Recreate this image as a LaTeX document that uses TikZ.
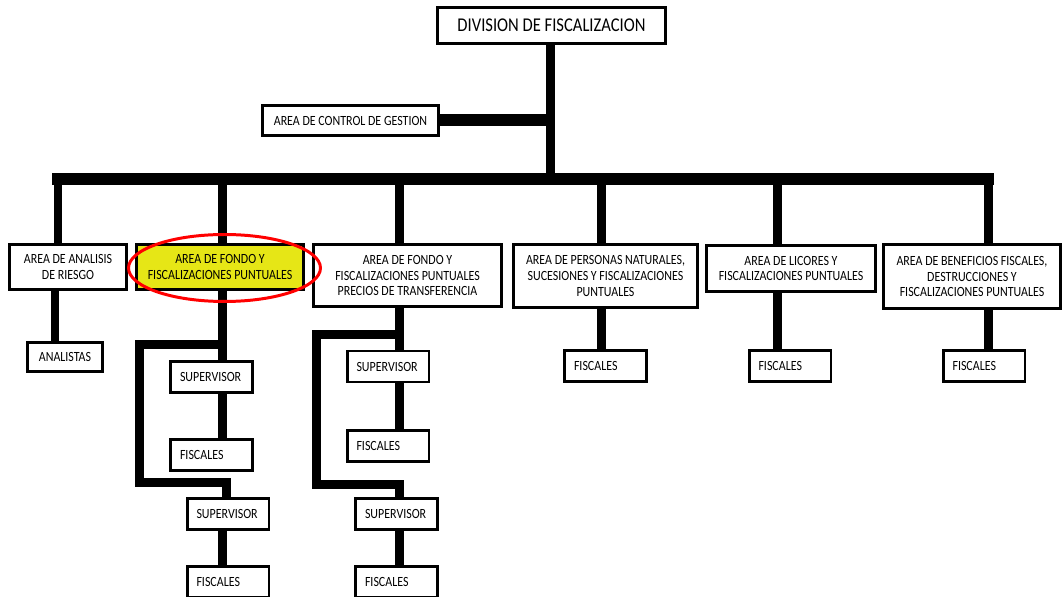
\documentclass[tikz,border=0pt]{standalone}
\usepackage{fontspec}
\setmainfont{Carlito}[FakeStretch=0.85]
\usepackage{tikz}
\usetikzlibrary{positioning,shapes.geometric}
\definecolor{hiyellow}{RGB}{230,230,22}
\newcommand\boxfont{\fontsize{8}{9.1}\selectfont}
\newcommand\headfont{\fontsize{11.1}{12}\selectfont}
\tikzset{
  box/.style={draw, line width=1.7pt, fill=white, align=center, inner sep=1pt, font=\boxfont},
  wh/.style 2 args={minimum width={#1*0.02cm}, minimum height={#2*0.02cm}},
  staff/.style={box, align=left, inner xsep=0.19cm, text width=1.26cm, minimum height=0.62cm},
  link/.style={line width=0.18cm},
  wide/.style={line width=0.24cm},
  bus/.style={line width=0.24cm, line cap=rect},
  ring/.style={ellipse, draw=red, line width=1.7pt, inner sep=0pt}
}

\begin{document}
\begin{tikzpicture}[x=0.02cm, y=-0.02cm]
  \useasboundingbox (0,0) rectangle (1062,597);

  % --- Top ---
  \node[box, font=\headfont, wh={228}{36}] (div) at (551.5,25.5) {DIVISION DE FISCALIZACION};
  \node[box, wh={176}{30}] (ctl) at (350.5,120.5) {AREA DE CONTROL DE GESTION};

  % --- Areas ---
  \node[box, wh={117}{45}] (ana) at (68,267) {AREA DE ANALISIS\\DE RIESGO};
  \node[box, fill=hiyellow, wh={167}{45}] (fon) at (220,267) {AREA DE FONDO Y\\FISCALIZACIONES PUNTUALES};
  \node[box, wh={188}{62}] (fpt) at (407.5,275.5) {AREA DE FONDO Y\\FISCALIZACIONES PUNTUALES\\PRECIOS DE TRANSFERENCIA};
  \node[box, wh={184}{63}] (per) at (605.5,276) {AREA DE PERSONAS NATURALES,\\SUCESIONES Y FISCALIZACIONES\\PUNTUALES};
  \node[box, wh={169}{46}] (lic) at (791,268.5) {AREA DE LICORES Y\\FISCALIZACIONES PUNTUALES};
  \node[box, wh={177}{64}] (ben) at (972,276.5) {AREA DE BENEFICIOS FISCALES,\\DESTRUCCIONES Y\\FISCALIZACIONES PUNTUALES};

  % --- Staff ---
  \node[box, wh={75}{29}] (anl) at (65,357) {ANALISTAS};
  \node[staff] (sup1) at (211.5,377) {SUPERVISOR};
  \node[staff] (fis1) at (211.5,455) {FISCALES};
  \node[staff] (sup2) at (228,514) {SUPERVISOR};
  \node[staff] (fis2) at (228,582) {FISCALES};
  \node[staff] (sup3) at (388,366.5) {SUPERVISOR};
  \node[staff] (fis3) at (388,446) {FISCALES};
  \node[staff] (sup4) at (396.5,514) {SUPERVISOR};
  \node[staff] (fis4) at (396.5,582) {FISCALES};
  \node[staff] (fis5) at (605.5,366) {FISCALES};
  \node[staff] (fis6) at (790,366) {FISCALES};
  \node[staff] (fis7) at (984,366) {FISCALES};

  % --- Trunk and bus ---
  \coordinate (hub) at (550,179);
  \draw[link] (div.south -| hub) -- (hub);
  \draw[wide] (ctl.east) -- (ctl.east -| hub);
  \coordinate (b1) at (58,179);
  \coordinate (b2) at (222.5,179);
  \coordinate (b3) at (399,179);
  \coordinate (b4) at (601,179);
  \coordinate (b5) at (777,179);
  \coordinate (b6) at (988,179);
  \draw[bus] (b1) -- (b6);
  \foreach \b/\n in {b1/ana, b2/fon, b3/fpt, b4/per, b5/lic, b6/ben}
    \draw[link] (\b) -- (\b |- \n.north);

  % --- Single drops ---
  \coordinate (c1) at (55,320);
  \draw[link] (ana.south -| c1) -- (c1 |- anl.north);
  \draw[link] (per.south -| b4) -- (b4 |- fis5.north);
  \draw[link] (lic.south -| b5) -- (b5 |- fis6.north);
  \draw[link] (ben.south -| b6) -- (b6 |- fis7.north);

  % --- Fondo ---
  \coordinate (j2a) at (222.5,345);
  \coordinate (j2b) at (139,345);
  \coordinate (j2c) at (139,483);
  \coordinate (j2d) at (226,483);
  \draw[link] (fon.south -| j2a) -- (j2a |- sup1.north);
  \draw[link] (j2a) -- (j2b) -- (j2c) -- (j2d) -- (j2d |- sup2.north);
  \draw[link] (sup1.south -| j2a) -- (j2a |- fis1.north);
  \draw[link] (sup2.south -| j2a) -- (j2a |- fis2.north);

  % --- Fondo, precios de transferencia ---
  \coordinate (j3a) at (399,335);
  \coordinate (j3b) at (316,335);
  \coordinate (j3c) at (316,485);
  \coordinate (j3d) at (399,485);
  \draw[link] (fpt.south -| j3a) -- (j3a |- sup3.north);
  \draw[link] (j3a) -- (j3b) -- (j3c) -- (j3d) -- (j3d |- sup4.north);
  \draw[link] (sup3.south -| j3a) -- (j3a |- fis3.north);
  \draw[link] (sup4.south -| j3a) -- (j3a |- fis4.north);

  % --- Highlight ---
  \node[ring, minimum width=3.84cm, minimum height=1.34cm] (hl) at (224.5,268) {};
\end{tikzpicture}
\end{document}
